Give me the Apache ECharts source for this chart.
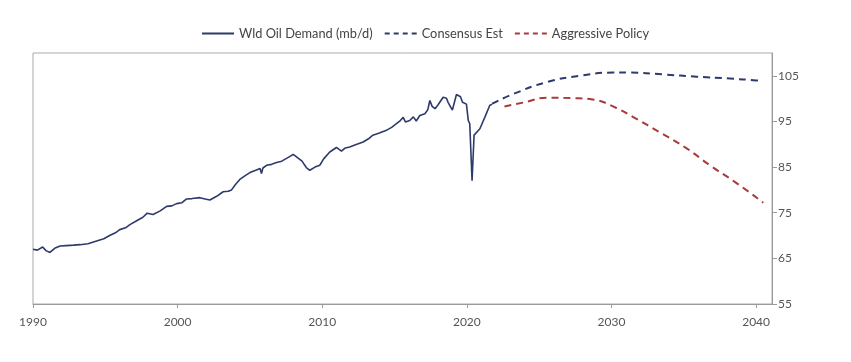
<!DOCTYPE html>
<html>
<head>
<meta charset="utf-8">
<script src="https://cdn.jsdelivr.net/npm/echarts@6/dist/echarts.min.js"></script>
<style>
html,body{margin:0;padding:0;background:#fff;}
#chart{width:851px;height:362px;}
</style>
</head>
<body>
<div id="chart"></div>
<script>
// Historical world oil demand (mb/d), decimal years
var histYears = [1990.0,1990.3,1990.67,1990.9,1991.17,1991.5,1991.87,1992.3,1992.8,1993.25,1993.8,1994.4,1994.9,1995.3,1995.7,1996.0,1996.4,1996.7,1997.2,1997.6,1997.9,1998.3,1998.8,1999.24,1999.6,1999.93,2000.3,2000.6,2001.0,2001.54,2001.9,2002.23,2002.7,2003.15,2003.5,2003.73,2004.0,2004.3,2004.7,2005.0,2005.4,2005.7,2005.8,2005.9,2006.15,2006.5,2006.84,2007.2,2007.53,2007.8,2007.99,2008.2,2008.33,2008.6,2008.9,2009.14,2009.5,2009.83,2010.1,2010.52,2010.98,2011.33,2011.6,2011.9,2012.3,2012.83,2013.2,2013.5,2013.9,2014.4,2014.8,2015.13,2015.4,2015.6,2015.75,2016.05,2016.3,2016.5,2016.75,2017.1,2017.3,2017.44,2017.6,2017.8,2018.0,2018.36,2018.59,2018.7,2019.0,2019.28,2019.56,2019.7,2019.97,2020.1,2020.2,2020.36,2020.5,2020.59,2020.9,2021.24,2021.58,2021.75];
var histDemand = [67.0,66.8,67.5,66.7,66.3,67.2,67.7,67.8,67.9,68.0,68.2,68.8,69.3,70.0,70.6,71.3,71.7,72.4,73.3,74.0,74.9,74.6,75.4,76.4,76.5,77.0,77.2,78.0,78.1,78.3,78.0,77.8,78.6,79.6,79.7,80.0,81.2,82.3,83.2,83.8,84.3,84.7,83.6,84.8,85.4,85.6,86.0,86.3,86.9,87.4,87.8,87.3,87.6,86.3,84.9,84.3,85.0,85.4,86.8,88.3,89.3,88.5,89.2,89.4,89.9,90.5,91.2,92.0,92.4,93.0,93.7,94.5,95.2,95.9,94.9,95.2,96.0,95.1,96.3,96.7,97.6,99.6,98.3,97.8,98.6,100.3,100.1,99.2,97.5,100.9,100.4,99.2,98.8,95.2,94.5,82.0,92.0,92.3,93.4,95.9,98.5,98.8];

// Consensus estimate
var consYears = [2021.75,2023.2,2025.5,2027.8,2030.1,2031.3,2033.6,2035.9,2038.2,2040.0,2040.4];
var consDemand = [98.9,101.0,103.6,105.0,105.7,105.7,105.3,104.8,104.4,104.0,103.9];

// Aggressive policy
var aggrYears = [2022.6,2024.0,2025.5,2027.3,2028.7,2030.3,2031.7,2033.3,2035.2,2036.8,2038.6,2040.5];
var aggrDemand = [98.3,99.2,100.2,100.1,99.8,98.0,95.6,92.7,89.1,85.4,81.6,77.2];

var xTicks = [1990,2000,2010,2020,2030,2040];
var yTicks = [55,65,75,85,95,105];

function pairs(xs, ys){ return xs.map(function(x,i){ return [x, ys[i]]; }); }

var navy = '#2d3a6b';
var red = '#a93a3b';
var axisGray = '#9a9a9a';
var textGray = '#555';

var solidIcon = 'path://M0,0H32V2H0Z';
var dashIcon = 'path://M0,0H5V2H0Z M9,0H14V2H9Z M18,0H23V2H18Z M27,0H32V2H27Z';

var chart = echarts.init(document.getElementById('chart'));
chart.setOption({
  animation: false,
  backgroundColor: '#fff',
  textStyle: { fontFamily: 'Lato' },
  legend: {
    top: 22,
    left: 'center',
    itemWidth: 32,
    itemHeight: 2,
    itemGap: 12,
    textStyle: { color: '#444', fontSize: 12.8, fontFamily: 'Lato' },
    data: [
      { name: 'Wld Oil Demand (mb/d)', icon: solidIcon },
      { name: 'Consensus Est', icon: dashIcon },
      { name: 'Aggressive Policy', icon: dashIcon }
    ]
  },
  grid: {
    left: 33, right: 79, top: 53, bottom: 58,
    show: true, borderColor: '#aaa', borderWidth: 1
  },
  xAxis: {
    type: 'value',
    min: 1990, max: 2041.1, interval: 10,
    axisLine: { show: true, lineStyle: { color: axisGray } },
    axisTick: { show: true, length: 4, lineStyle: { color: axisGray } },
    splitLine: { show: false },
    axisLabel: {
      color: textGray, fontSize: 12, margin: 12, showMaxLabel: false,
      formatter: function(v){ return xTicks.indexOf(v) >= 0 ? String(v) : ''; }
    }
  },
  yAxis: {
    type: 'value',
    position: 'right',
    min: 55, max: 110, interval: 10,
    axisLine: { show: true, lineStyle: { color: axisGray } },
    axisTick: { show: true, length: 5, lineStyle: { color: axisGray } },
    splitLine: { show: false },
    axisLabel: {
      color: textGray, fontSize: 12, margin: 6, showMaxLabel: false,
      formatter: function(v){ return yTicks.indexOf(v) >= 0 ? String(v) : ''; }
    }
  },
  series: [
    {
      name: 'Wld Oil Demand (mb/d)', type: 'line', showSymbol: false, symbol: 'none',
      data: pairs(histYears, histDemand),
      lineStyle: { color: navy, width: 1.6 }, itemStyle: { color: navy }
    },
    {
      name: 'Consensus Est', type: 'line', showSymbol: false, symbol: 'none', smooth: true,
      data: pairs(consYears, consDemand),
      lineStyle: { color: navy, width: 2, type: [7,5] }, itemStyle: { color: navy }
    },
    {
      name: 'Aggressive Policy', type: 'line', showSymbol: false, symbol: 'none', smooth: true,
      data: pairs(aggrYears, aggrDemand),
      lineStyle: { color: red, width: 2, type: [7,5] }, itemStyle: { color: red }
    }
  ]
});
</script>
</body>
</html>
